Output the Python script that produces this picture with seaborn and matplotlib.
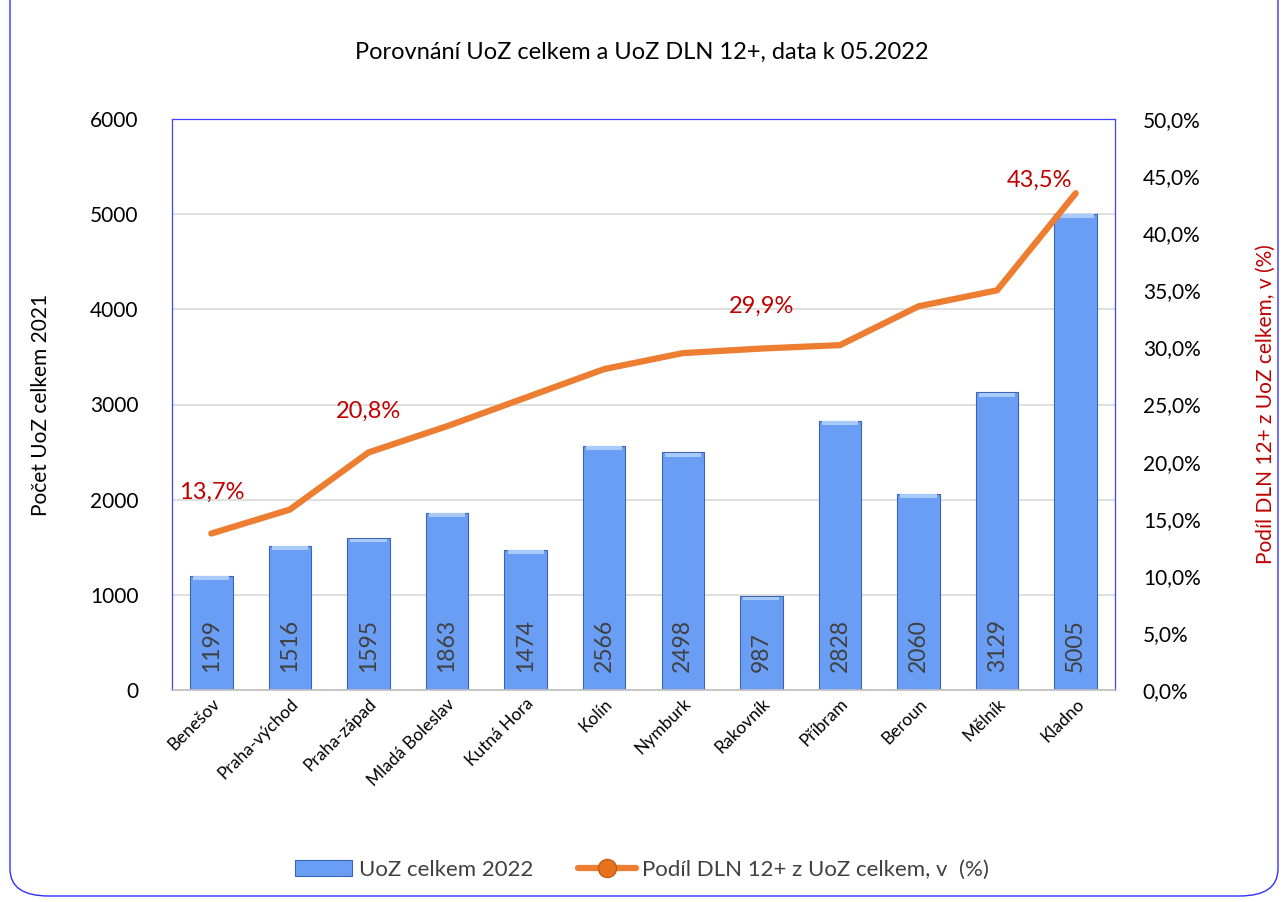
import matplotlib
matplotlib.use("Agg")
import matplotlib.pyplot as plt
import seaborn as sns
import numpy as np
from matplotlib.patches import FancyBboxPatch
from matplotlib.lines import Line2D
from matplotlib.ticker import FuncFormatter, MultipleLocator

districts = ["Benešov", "Praha-východ", "Praha-západ", "Mladá Boleslav", "Kutná Hora",
             "Kolín", "Nymburk", "Rakovník", "Příbram", "Beroun", "Mělník", "Kladno"]
uoz_total = [1199, 1516, 1595, 1863, 1474, 2566, 2498, 987, 2828, 2060, 3129, 5005]
dln_share = [13.7, 15.8, 20.8, 23.1, 25.6, 28.1, 29.5, 29.9, 30.2, 33.6, 35.0, 43.5]
labelled = {0: "13,7%", 2: "20,8%", 7: "29,9%", 11: "43,5%"}

title = "Porovnání UoZ celkem a UoZ DLN 12+, data k 05.2022"
bar_name = "UoZ celkem 2022"
line_name = "Podíl DLN 12+ z UoZ celkem, v  (%)"
ylabel_left = "Počet UoZ celkem 2021"
ylabel_right = "Podíl DLN 12+ z UoZ celkem, v (%)"

sns.set_theme(style="white")
plt.rcParams['font.family'] = ['Lato', 'DejaVu Sans']

fig = plt.figure(figsize=(12.84, 9.02), dpi=100)
ax = fig.add_axes([172/1284, 1-690/902, (1115-172)/1284, (690-119)/902])

bar_color = "#6A9EF5"
sns.barplot(x=districts, y=uoz_total, ax=ax, color=bar_color, width=0.54,
            edgecolor="#3D63B5", linewidth=0.8, saturation=1)
# lighter top cap for bevel look
for p in ax.patches:
    x0 = p.get_x(); w = p.get_width(); h = p.get_height()
    ax.fill_between([x0 + 0.04, x0 + w - 0.04], h - 45, h - 5, color="#A9CBFA", zorder=3, lw=0)

ax.set_ylim(0, 6000)
ax.set_xlim(-0.5, 11.5)
ax.yaxis.set_major_locator(MultipleLocator(1000))
ax.grid(axis="y", color="#D9D9D9", linewidth=1.2)
ax.set_axisbelow(True)
ax.tick_params(axis="y", labelsize=15, colors="#000000", length=0, pad=24)
ax.tick_params(axis="x", labelsize=12.5, colors="#000000", length=0, pad=4)
for lab in ax.get_xticklabels():
    lab.set_rotation(45)
    lab.set_ha("right")
    lab.set_rotation_mode("anchor")
ax.set_ylabel(ylabel_left, fontsize=15, color="#000000", labelpad=28)
ax.set_xlabel("")

for i, v in enumerate(uoz_total):
    ax.annotate(f"{v}", xy=(i, 0), xytext=(0, 13), textcoords="offset points",
                rotation=90, ha="center", va="bottom", fontsize=16.5, color="#404040", zorder=5)

for side in ["left", "top", "right"]:
    ax.spines[side].set_color("#4040FF")
    ax.spines[side].set_linewidth(0.9)
ax.spines["bottom"].set_color("#BFBFBF")
ax.spines["bottom"].set_linewidth(1.2)

ax2 = ax.twinx()
line_color = "#ED7D31"
sns.lineplot(x=np.arange(len(districts)), y=dln_share, ax=ax2, color=line_color,
             linewidth=4.5, solid_capstyle="round", solid_joinstyle="round", legend=False)
ax2.set_ylim(0, 50)
ax2.set_xlim(-0.5, 11.5)
ax2.yaxis.set_major_locator(MultipleLocator(5))
ax2.yaxis.set_major_formatter(FuncFormatter(lambda v, p: f"{v:.1f}%".replace(".", ",")))
ax2.tick_params(axis="y", labelsize=15, colors="#000000", length=0, pad=20)
ax2.set_ylabel(ylabel_right, fontsize=15, color="#C00000", labelpad=40)
for side in ["left", "top", "right", "bottom"]:
    ax2.spines[side].set_visible(False)

offsets = {0: (0, 22), 2: (0, 22), 7: (0, 23), 11: (-26, 2)}
for i, txt in labelled.items():
    ax2.annotate(txt, xy=(i, dln_share[i]), xytext=offsets[i], textcoords="offset points",
                 ha="center", va="bottom", fontsize=17, color="#C00000")

fig.suptitle(title, x=0.5, y=1-52/902, va="center", fontsize=17, color="#000000")

handles = [
    plt.Rectangle((0, 0), 1, 1, facecolor=bar_color, edgecolor="#3D63B5", linewidth=0.8),
    Line2D([0], [0], color=line_color, linewidth=4.5, marker="o", markersize=13,
           markerfacecolor="#E8721C", markeredgecolor="#C55A11"),
]
fig.legend(handles, [bar_name, line_name], loc="center", bbox_to_anchor=(0.5, 1-870/902),
           ncol=2, frameon=False, fontsize=16, handlelength=2.6, columnspacing=2.0,
           handletextpad=0.3, labelcolor="#404040")

border = FancyBboxPatch((10/1284, 6/902), 1268/1284, 1200/902, transform=fig.transFigure,
                        boxstyle="round,pad=0,rounding_size=0.03", facecolor="none",
                        edgecolor="#3030FF", linewidth=1.0, clip_on=False)
fig.patches.append(border)

fig.savefig("out.png", dpi=100, facecolor="white")
